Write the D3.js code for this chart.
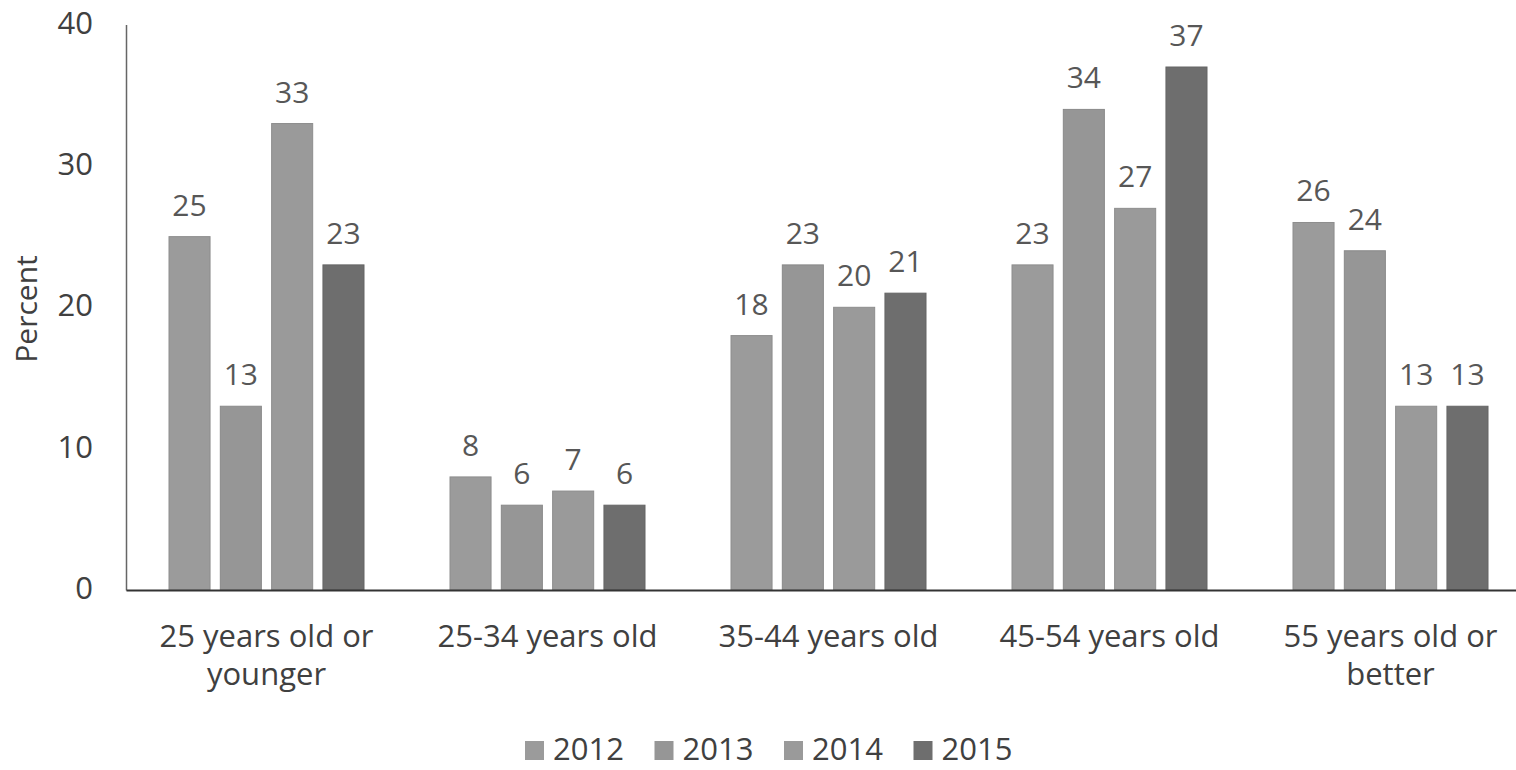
<!DOCTYPE html>
<html><head><meta charset="utf-8">
<script src="https://cdn.jsdelivr.net/npm/d3@7"></script>
<style>body{margin:0;background:#fff}svg text{font-family:"Open Sans",sans-serif}</style>
</head><body><svg id="c" width="1516" height="770"></svg>
<script>
const categories = [["25 years old or","younger"],["25-34 years old"],["35-44 years old"],["45-54 years old"],["55 years old or","better"]];
const years = ["2012","2013","2014","2015"];
const v2012 = [25, 8, 18, 23, 26];
const v2013 = [13, 6, 23, 34, 24];
const v2014 = [33, 7, 20, 27, 13];
const v2015 = [23, 6, 21, 37, 13];
const yTicks = [0, 10, 20, 30, 40];
const colors = ["#9b9b9b", "#969696", "#9a9a9a", "#6e6e6e"];
const series = [v2012, v2013, v2014, v2015];

const svg = d3.select("#c");
const mLeft = 126, mRight = 1531, mTop = 24.6, mBottom = 590;
const y = d3.scaleLinear().domain([0, 40]).range([mBottom, mTop]);
const x0 = d3.scaleBand().domain(categories.map((c,i)=>i)).range([mLeft, mRight]);
const inner = 195;
const x1 = d3.scaleBand().domain(years).range([0, inner]).paddingInner(0.2);
const off = (x0.bandwidth() - inner) / 2;

const g = svg.append("g");
categories.forEach((c, i) => {
  years.forEach((yr, j) => {
    const val = series[j][i];
    const bx = x0(i) + off + x1(yr);
    g.append("rect").attr("x", bx).attr("y", y(val)).attr("width", x1.bandwidth())
      .attr("height", y(0) - y(val)).attr("fill", colors[j]).attr("stroke", d3.color(colors[j]).darker(0.25)).attr("stroke-width", 1);
    g.append("text").attr("x", bx + x1.bandwidth()/2).attr("y", y(val) - 21)
      .attr("text-anchor", "middle").attr("font-size", 30).attr("fill", "#575757").text(val);
  });
});

// y axis
const yAxis = d3.axisLeft(y).tickValues(yTicks).tickSize(0).tickPadding(33);
const ya = svg.append("g").attr("transform", `translate(${mLeft},0)`).call(yAxis);
ya.select(".domain").attr("stroke", "#666").attr("stroke-width", 1.5);
ya.selectAll("text").attr("font-size", 31).attr("fill", "#404040").attr("dy", "0.28em").attr("font-family", "Open Sans");

// x axis
const xa = svg.append("g").attr("transform", `translate(0,${mBottom})`).call(d3.axisBottom(x0).tickSize(0).tickFormat(""));
xa.select(".domain").attr("stroke", "#333").attr("stroke-width", 2);
categories.forEach((c, i) => {
  const cx = x0(i) + x0.bandwidth()/2;
  const t = svg.append("text").attr("x", cx).attr("y", 647)
    .attr("text-anchor", "middle").attr("font-size", 31).attr("fill", "#404040");
  c.forEach((line, k) => t.append("tspan").attr("x", cx).attr("dy", k === 0 ? 0 : 38).text(line));
});

// y title
svg.append("text").attr("transform", "translate(37,309) rotate(-90)").attr("text-anchor", "middle")
  .attr("font-size", 30).attr("fill", "#404040").text("Percent");

// legend
const legStep = 129.5, legStart = 525;
years.forEach((yr, j) => {
  const lx = legStart + j * legStep;
  svg.append("rect").attr("x", lx).attr("y", 741).attr("width", 19).attr("height", 19).attr("fill", colors[j]);
  svg.append("text").attr("x", lx + 28).attr("y", 760).attr("font-size", 31).attr("fill", "#404040").text(yr);
});
</script></body></html>
